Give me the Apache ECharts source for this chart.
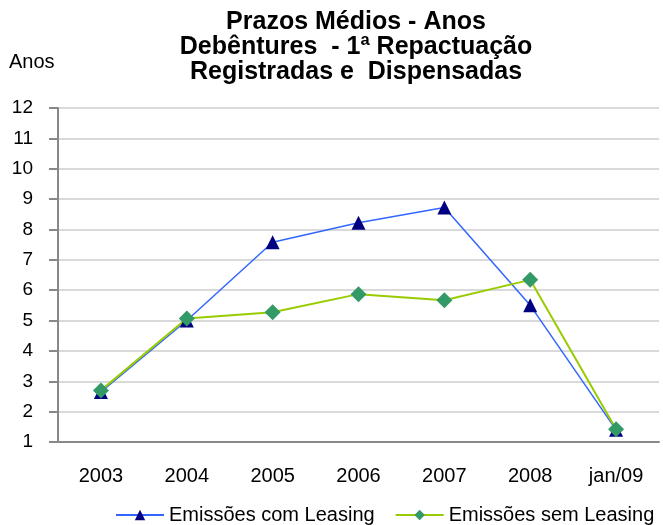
<!DOCTYPE html>
<html>
<head>
    <meta charset="utf-8">
    <title>Prazos Médios</title>
    <script src="https://cdn.jsdelivr.net/npm/echarts@6/dist/echarts.min.js"></script>
    <style>
        html, body { margin: 0; padding: 0; background: #ffffff; }
        #chart { width: 663px; height: 525px; }
    </style>
</head>
<body>
<div id="chart"></div>
<script>
    var categories = ['2003', '2004', '2005', '2006', '2007', '2008', 'jan/09'];
    var comLeasing = [2.65, 5.0, 7.58, 8.22, 8.72, 5.5, 1.4];
    var semLeasing = [2.7, 5.07, 5.27, 5.87, 5.67, 6.34, 1.42];

    var chart = echarts.init(document.getElementById('chart'));
    var font = 'Liberation Sans, Arial, sans-serif';

    var option = {
        animation: false,
        title: {
            text: 'Prazos Médios - Anos\nDebêntures  - 1ª Repactuação\nRegistradas e  Dispensadas',
            left: 356,
            textAlign: 'center',
            top: 10,
            padding: 0,
            textStyle: {
                fontFamily: font,
                fontSize: 25,
                fontWeight: 'bold',
                color: '#000',
                lineHeight: 25
            }
        },
        graphic: [{
            type: 'text',
            left: 9,
            top: 52,
            style: { text: 'Anos', font: '20px ' + font, fill: '#000' }
        }],
        legend: {
            top: 505,
            left: 115,
            padding: 0,
            itemGap: 20,
            itemWidth: 48,
            itemHeight: 13,
            textStyle: { fontFamily: font, fontSize: 20, color: '#000' },
            data: ['Emissões com Leasing', 'Emissões sem Leasing']
        },
        grid: { left: 58, right: 4, top: 108, bottom: 83 },
        xAxis: {
            type: 'category',
            data: categories,
            axisLine: { lineStyle: { color: '#888', width: 2 } },
            axisTick: { lineStyle: { color: '#888', width: 2 }, length: 6 },
            axisLabel: { fontFamily: font, fontSize: 20, color: '#000', margin: 24 }
        },
        yAxis: {
            type: 'value',
            min: 1,
            max: 12,
            interval: 1,
            axisLine: { show: true, lineStyle: { color: '#888', width: 2 } },
            axisTick: { show: true, inside: false, length: 9, lineStyle: { color: '#888', width: 2 } },
            axisLabel: { fontFamily: font, fontSize: 19, color: '#000', margin: 25 },
            splitLine: { lineStyle: { color: '#d9d9d9', width: 2 } }
        },
        series: [
            {
                name: 'Emissões com Leasing',
                type: 'line',
                data: comLeasing,
                symbol: 'triangle',
                symbolSize: 14,
                itemStyle: { color: '#000080' },
                lineStyle: { color: '#3366ff', width: 1.5 }
            },
            {
                name: 'Emissões sem Leasing',
                type: 'line',
                data: semLeasing,
                symbol: 'diamond',
                symbolSize: 16,
                itemStyle: { color: '#339966' },
                lineStyle: { color: '#99cc00', width: 2 }
            }
        ]
    };
    chart.setOption(option);

    window.onresize = function () {
        chart.resize();
    };
</script>
</body>
</html>
